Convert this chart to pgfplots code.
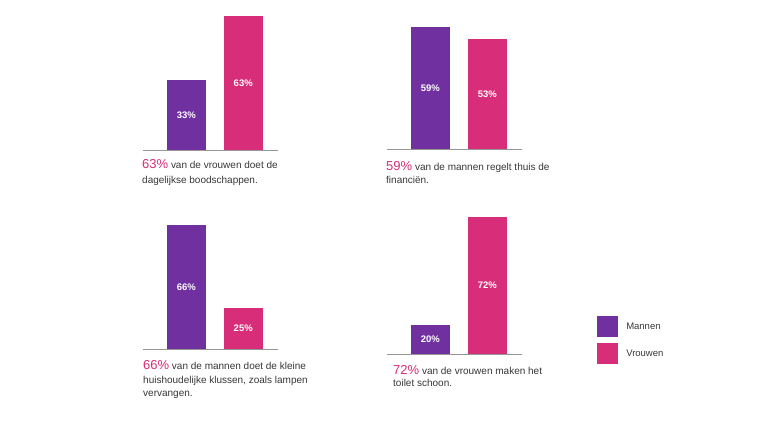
\documentclass[border=0pt]{standalone}
\usepackage{fontspec}
\setmainfont{Liberation Sans}
\usepackage{pgfplots}
\pgfplotsset{compat=1.18}

\definecolor{mannen}{RGB}{112,48,160}
\definecolor{vrouwen}{RGB}{216,46,122}
\definecolor{tekst}{RGB}{55,55,55}
\definecolor{basis}{RGB}{150,150,150}

% #1 = ymin, #2 = pt per percent
\pgfplotsset{
  duobar/.style 2 args={
    scale only axis, width=135pt,
    ybar, bar width=39pt,
    xmin=-0.76, xmax=1.61,
    axis x line*=bottom, axis y line=none,
    x axis line style={draw=basis, line width=0.8pt, -},
    xtick=\empty, ytick=\empty,
    nodes near coords={\pgfmathprintnumber[assume math mode=true]{\pgfplotspointmeta}\%},
    visualization depends on={rawy \as \rawy},
    every node near coord/.append style={
      anchor=center, text=white,
      font=\bfseries\fontsize{9.5}{10}\selectfont,
      yshift={-(\rawy-#1)*#2*0.5pt}
    },
  },
  man/.style={draw=none, fill=mannen, bar shift=0pt},
  vrouw/.style={draw=none, fill=vrouwen, bar shift=0pt},
}
\newcommand{\pct}[1]{\textcolor{vrouwen}{\fontsize{13}{13}\selectfont #1}}

\begin{document}
\begin{tikzpicture}
\path[fill=white] (0,0) rectangle (760pt,427pt);

\begin{axis}[duobar={0}{2.12}, at={(143pt,277pt)}, anchor=south west,
    ymin=0, ymax=70, height=148.4pt]
  \addplot[man]   coordinates {(0,33)};
  \addplot[vrouw] coordinates {(1,63)};
\end{axis}

\begin{axis}[duobar={0}{2.07}, at={(387pt,278pt)}, anchor=south west,
    ymin=0, ymax=70, height=144.9pt]
  \addplot[man]   coordinates {(0,59)};
  \addplot[vrouw] coordinates {(1,53)};
\end{axis}

\begin{axis}[duobar={4.7}{2.02}, at={(143pt,78pt)}, anchor=south west,
    ymin=4.7, ymax=70, height=131.9pt]
  \addplot[man]   coordinates {(0,66)};
  \addplot[vrouw] coordinates {(1,25)};
\end{axis}

\begin{axis}[duobar={6}{2.08}, at={(387pt,73pt)}, anchor=south west,
    ymin=6, ymax=75, height=143.5pt,
    legend image code/.code={\fill[#1] (0pt,-10.5pt) rectangle (21pt,10.5pt);},
    legend style={draw=none, fill=none, inner sep=0pt,
      at={(axis description cs:1.556,0.265)}, anchor=north west,
      row sep=6pt, font=\fontsize{9.5}{11}\selectfont, text=tekst,
      /tikz/every odd column/.append style={column sep=6pt}},
    legend cell align=left]
  \addplot[man]   coordinates {(0,20)};
  \addplot[vrouw] coordinates {(1,72)};
  \legend{Mannen, Vrouwen}
\end{axis}

% anchor=base west of a multi-line node sits on its last line
\tikzset{captxt/.style={anchor=base west, align=left, inner sep=0pt, text=tekst,
  font=\fontsize{10}{#1}\selectfont}}
\node[captxt=15] at (142pt,243pt) {\pct{63\%} van de vrouwen doet de\\dagelijkse boodschappen.};
\node[captxt=13.5] at (386pt,243pt) {\pct{59\%} van de mannen regelt thuis de\\financiën.};
\node[captxt=13.5] at (143pt,30pt) {\pct{66\%} van de mannen doet de kleine\\huishoudelijke klussen, zoals lampen\\vervangen.};
\node[captxt=12] at (393pt,40pt) {\pct{72\%} van de vrouwen maken het\\toilet schoon.};
\end{tikzpicture}
\end{document}
